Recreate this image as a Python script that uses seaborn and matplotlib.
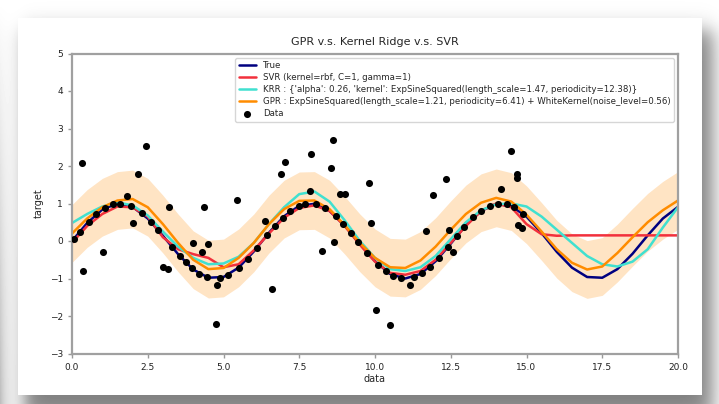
import numpy as np
import matplotlib
matplotlib.use("Agg")
import matplotlib.pyplot as plt
from matplotlib.patches import Rectangle
import seaborn as sns

# ---------------- data ----------------
data_x = [0.32, 0.35, 1.01, 1.80, 2.00, 2.19, 2.44, 3.01, 3.18, 3.20, 4.00, 4.30, 4.36,
          4.50, 4.74, 4.78, 5.43, 6.37, 6.59, 6.90, 7.03, 7.85, 7.88, 8.26, 8.54, 8.60,
          8.66, 8.84, 9.00, 9.81, 9.87, 10.03, 10.50, 11.16, 11.68, 11.90, 12.33, 12.45,
          12.58, 14.15, 14.48, 14.68, 14.70, 14.73, 14.84,
          0.05, 0.25, 0.55, 0.80, 1.10, 1.35, 1.60, 1.95, 2.30, 2.60, 2.85, 3.30, 3.55,
          3.75, 3.95, 4.20, 4.45, 4.90, 5.15, 5.50, 5.80, 6.10, 6.45, 6.70, 6.95, 7.20,
          7.50, 7.70, 8.05, 8.35, 8.70, 8.95, 9.20, 9.45, 9.75, 10.10, 10.35, 10.60,
          10.85, 11.30, 11.55, 11.80, 12.10, 12.40, 12.70, 12.95, 13.25, 13.50, 13.80,
          14.05, 14.35, 14.60, 14.90]
data_y = [2.07, -0.79, -0.30, 1.20, 0.47, 1.80, 2.54, -0.68, -0.75, 0.92, -0.06, -0.28, 0.90,
          -0.09, -2.21, -1.17, 1.09, 0.53, -1.29, 1.80, 2.11, 1.34, 2.31, -0.26, 1.96, 2.69,
          -0.02, 1.25, 1.25, 1.56, 0.47, -1.84, -2.24, -1.17, 0.27, 1.23, 1.65, 0.29,
          -0.28, 1.38, 2.41, 1.80, 1.67, 0.43, 0.34,
          0.05, 0.25, 0.52, 0.72, 0.89, 0.98, 1.00, 0.93, 0.75, 0.52, 0.29, -0.16, -0.40,
          -0.57, -0.72, -0.87, -0.97, -0.98, -0.91, -0.71, -0.47, -0.18, 0.17, 0.41, 0.62, 0.79,
          0.94, 0.99, 0.98, 0.88, 0.66, 0.46, 0.22, -0.03, -0.32, -0.63, -0.80, -0.92,
          -0.99, -0.95, -0.85, -0.69, -0.45, -0.17, 0.13, 0.37, 0.63, 0.80, 0.94,
          1.00, 0.98, 0.90, 0.72]

grid_x = [0.0, 0.5, 1.0, 1.5, 2.0, 2.5, 3.0, 3.5, 4.0, 4.5, 5.0, 5.5, 6.0, 6.5, 7.0, 7.5,
          8.0, 8.5, 9.0, 9.5, 10.0, 10.5, 11.0, 11.5, 12.0, 12.5, 13.0, 13.5, 14.0, 14.5,
          15.0, 15.5, 16.0, 16.5, 17.0, 17.5, 18.0, 18.5, 19.0, 19.5, 20.0]
true_y = [0.00, 0.48, 0.84, 1.00, 0.91, 0.60, 0.14, -0.35, -0.76, -0.98, -0.96, -0.71, -0.28,
          0.22, 0.66, 0.94, 0.99, 0.80, 0.41, -0.08, -0.54, -0.88, -1.00, -0.88, -0.54, -0.07,
          0.42, 0.80, 0.99, 0.93, 0.65, 0.21, -0.29, -0.71, -0.96, -0.98, -0.75, -0.34, 0.15,
          0.60, 0.91]
svr_y = [-0.05, 0.40, 0.72, 0.92, 0.90, 0.65, 0.10, -0.22, -0.35, -0.45, -0.70, -0.62, -0.25,
         0.20, 0.62, 0.88, 0.95, 0.80, 0.40, -0.10, -0.55, -0.85, -0.90, -0.80, -0.50, -0.05,
         0.40, 0.80, 1.00, 0.90, 0.45, 0.18, 0.14, 0.15, 0.15, 0.15, 0.15, 0.15, 0.15,
         0.15, 0.15]
krr_y = [0.48, 0.72, 0.92, 1.03, 0.95, 0.68, 0.25, -0.15, -0.45, -0.62, -0.60, -0.42, -0.05,
         0.45, 0.90, 1.25, 1.32, 1.05, 0.55, 0.00, -0.45, -0.75, -0.80, -0.70, -0.40, 0.05,
         0.50, 0.82, 0.98, 1.00, 0.92, 0.65, 0.30, -0.05, -0.40, -0.62, -0.68, -0.55, -0.22,
         0.36, 0.90]
gpr_y = [0.20, 0.60, 0.90, 1.08, 1.12, 0.90, 0.45, -0.05, -0.50, -0.75, -0.72, -0.45, -0.05,
         0.45, 0.85, 1.07, 1.08, 0.85, 0.42, -0.05, -0.45, -0.70, -0.72, -0.52, -0.15, 0.30,
         0.72, 1.02, 1.15, 1.05, 0.70, 0.25, -0.22, -0.58, -0.76, -0.68, -0.32, 0.10, 0.50,
         0.82, 1.08]
gpr_std = [0.77, 0.77, 0.77, 0.77, 0.77, 0.77, 0.77, 0.77, 0.77, 0.77, 0.77, 0.77, 0.77,
           0.77, 0.77, 0.77, 0.77, 0.77, 0.77, 0.77, 0.77, 0.77, 0.77, 0.77, 0.77, 0.77,
           0.77, 0.77, 0.77, 0.77, 0.77, 0.77, 0.77, 0.77, 0.77, 0.77, 0.77, 0.77, 0.77,
           0.77, 0.77]

x_ticks = [0.0, 2.5, 5.0, 7.5, 10.0, 12.5, 15.0, 17.5, 20.0]
y_ticks = [-3, -2, -1, 0, 1, 2, 3, 4, 5]

lbl_true = "True"
lbl_svr = "SVR (kernel=rbf, C=1, gamma=1)"
lbl_krr = "KRR : {'alpha': 0.26, 'kernel': ExpSineSquared(length_scale=1.47, periodicity=12.38)}"
lbl_gpr = "GPR : ExpSineSquared(length_scale=1.21, periodicity=6.41) + WhiteKernel(noise_level=0.56)"
lbl_data = "Data"

# ---------------- figure ----------------
sns.set_style("ticks")
plt.rcParams["font.family"] = ["DejaVu Sans"]

W, H = 719, 404
fig = plt.figure(figsize=(W / 100, H / 100), dpi=100)

# background with drop shadow (decoration)
bg = fig.add_axes([0, 0, 1, 1], zorder=-10)
yy, xx = np.mgrid[0:H, 0:W]
sig = lambda t: 1.0 / (1.0 + np.exp(-t))
mask = sig((xx - 24) / 5.0) * sig((712 - xx) / 6.0) * sig((yy - 30) / 6.0) * sig((418 - yy) / 6.0)
img = 1.0 - 0.5 * mask
img -= 0.25 * (yy / H) * np.exp(-xx / 8.0)
bg.imshow(img, cmap="gray", vmin=0, vmax=1, aspect="auto", extent=[0, W, H, 0],
          interpolation="bilinear")
bg.add_patch(Rectangle((18, 18), 702 - 18, 395 - 18, facecolor="white", edgecolor="none"))
bg.set_xlim(0, W)
bg.set_ylim(H, 0)
bg.axis("off")

ax = fig.add_axes([72 / W, 1 - 353.5 / H, 606 / W, 300 / H], zorder=1)
ax.set_facecolor("white")

lw = 1.8
sns.lineplot(x=grid_x, y=true_y, color="navy", lw=lw, label=lbl_true, ax=ax)
sns.lineplot(x=grid_x, y=svr_y, color="#f2303c", lw=lw, label=lbl_svr, ax=ax)
sns.lineplot(x=grid_x, y=krr_y, color="turquoise", lw=lw, label=lbl_krr, ax=ax)
sns.lineplot(x=grid_x, y=gpr_y, color="darkorange", lw=lw, label=lbl_gpr, ax=ax)
lower = np.array(gpr_y) - np.array(gpr_std)
upper = np.array(gpr_y) + np.array(gpr_std)
ax.fill_between(grid_x, lower, upper, color="darkorange", alpha=0.23, lw=0)
sns.scatterplot(x=data_x, y=data_y, color="k", s=26, linewidth=0, label=lbl_data,
                ax=ax, zorder=5)

ax.set_xlim(0, 20)
ax.set_ylim(-3, 5)
ax.set_xticks(x_ticks)
ax.set_yticks(y_ticks)
ax.set_xlabel("data", fontsize=7, labelpad=2)
ax.set_ylabel("target", fontsize=7, labelpad=4)
ax.set_title("GPR v.s. Kernel Ridge v.s. SVR", fontsize=8, pad=6)
ax.tick_params(labelsize=6.5, color="#999999", labelcolor="#222222", length=3, width=1)
for s in ax.spines.values():
    s.set_color("#a0a0a0")
    s.set_linewidth(1.6)

leg = ax.legend(loc="upper right", fontsize=6.2, frameon=True, scatterpoints=1,
                borderaxespad=0.5, handlelength=2.0, labelspacing=0.35)
leg.get_frame().set_edgecolor("#cccccc")

fig.savefig("out.png", dpi=100)
